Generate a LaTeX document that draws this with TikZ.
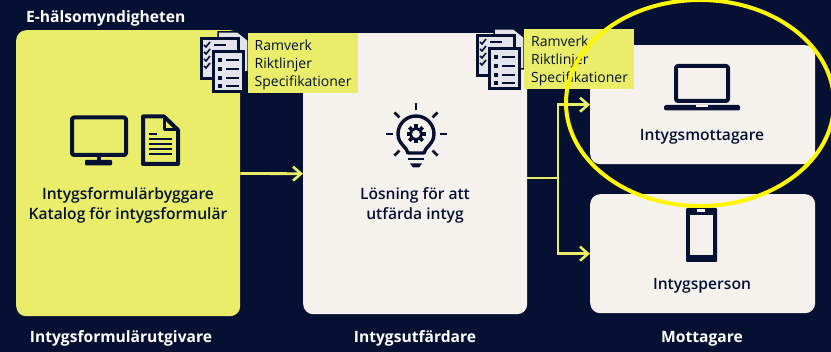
\documentclass[tikz,border=0pt]{standalone}
\usepackage{fontspec}
\setmainfont{Open Sans}
\usetikzlibrary{arrows.meta}
\definecolor{navy}{HTML}{061033}
\definecolor{lime}{HTML}{E9ED69}
\definecolor{cream}{HTML}{F5F2EE}
\definecolor{paper}{HTML}{E4E5EC}
\tikzset{
  x=1pt,y=-1pt,
  panel/.style={draw=none,rounded corners=10pt,inner sep=0pt,anchor=north west},
  tag/.style={fill=lime,inner sep=0pt,anchor=north west,minimum width=110pt,minimum height=60pt},
  tagtext/.style={anchor=north west,align=left,font=\fontsize{14}{18}\selectfont,text=navy,inner sep=0pt},
  title/.style={font=\fontsize{15.6}{18}\selectfont\bfseries,text=white,inner sep=0pt},
  boxlabel/.style={font=\fontsize{15.6}{20}\selectfont\sffamily,text=navy,inner sep=0pt,align=center},
  flow/.style={draw=lime,line width=2.8pt,-{Straight Barb[length=8pt,width=14pt,line width=2.6pt]}},
  flowline/.style={draw=lime,line width=2.8pt},
  icon/.style={draw=navy,line width=4pt,line join=round},
}
\setsansfont{Open Sans Semibold}[BoldFont=Open Sans]
\newcommand{\docstack}[2]{%
  \begin{scope}[shift={(#1,#2)}]
    \fill[paper,draw=navy,line width=1.5pt] (18,0) -- (38,0) -- (48,8) -- (48,40) -- (18,40) -- cycle;
    \fill[paper,draw=navy,line width=3pt] (1,7) rectangle (38,47);
    \foreach \yy in {13,20,27,34}{
      \draw[navy,line width=1.6pt] (4,\yy) -- (6,\yy+2) -- (10,\yy-3);
      \draw[navy,line width=1.8pt] (14,\yy) -- (26,\yy);
    }
    \fill[paper,draw=navy,line width=3pt] (13,20) rectangle (43,60);
    \foreach \yy in {28,37,46,54}{
      \fill[navy] (18,\yy-2) rectangle (22,\yy+2);
      \draw[navy,line width=1.8pt] (26,\yy) -- (39,\yy);
    }
  \end{scope}}
\begin{document}
\begin{tikzpicture}
\useasboundingbox (0,0) rectangle (831,352);
\fill[navy] (0,0) rectangle (831,352);

\node[panel,fill=lime,minimum width=224pt,minimum height=286pt] (utg) at (16,30) {};
\node[panel,fill=cream,minimum width=224pt,minimum height=281pt] (utf) at (303,33) {};
\node[panel,fill=cream,minimum width=225pt,minimum height=119pt] (mot) at (590,45) {};
\node[panel,fill=cream,minimum width=225pt,minimum height=119pt] (per) at (590,194) {};

\node[title,anchor=west] (auth) at (26,18.5) {E-hälsomyndigheten};
\node[title] (t1) at (121,338.5) {Intygsformulärutgivare};
\node[title] (t2) at (415,338.5) {Intygsutfärdare};
\node[title] (t3) at (702,338.5) {Mottagare};

\node[boxlabel] (l1) at (128,205) {Intygsformulärbyggare\\Katalog för intygsformulär};
\node[boxlabel] (l2) at (415,205) {Lösning för att\\utfärda intyg};
\node[boxlabel] (l3) at (702,137) {Intygsmottagare};
\node[boxlabel] (l4) at (702,286) {Intygsperson};

% connectors
\coordinate (j) at (558,178);
\coordinate (out) at (utf.east |- j);
\draw[flow] (utg) -- (utf.west);
\draw[flowline] (out) -- (j);
\draw[flow] (j) |- (mot.west);
\draw[flow] (j) |- (per.west);

% monitor
\draw[icon,rounded corners=2pt] (72,117.5) rectangle (126,155);
\draw[navy,line width=4pt] (98.5,155) -- (98.5,162);
\fill[navy,rounded corners=1pt] (85,160) rectangle (112,165.5);
% document
\draw[icon] (143,116.5) -- (164,116.5) -- (178,130) -- (178,164) -- (143,164) -- cycle;
\draw[navy,line width=3pt,line join=round] (164,116.5) -- (164,130) -- (178,130);
\draw[navy,line width=1.5pt] (149,134) -- (157,134);
\foreach \yy in {139,144,149,154}{\draw[navy,line width=1.6pt] (149,\yy) -- (172,\yy);}

% bulb
\begin{scope}[shift={(416,134)}]
  \draw[icon,line width=3.4pt,line cap=round] (-8,19) .. controls (-9,13) and (-18,10) .. (-18,0)
     arc[start angle=180,end angle=360,radius=18]
     .. controls (18,10) and (9,13) .. (8,19) -- cycle;
  \draw[navy,line width=2.8pt] (0,0) circle (5.6);
  \foreach \a in {0,45,...,315}{\fill[navy,rotate=\a] (-1.9,-9.5) rectangle (1.9,-6);}
  \foreach \a in {0,45,90,135,225,270,315}{\draw[navy,line width=2.8pt,rotate=\a] (0,-23.5) -- (0,-30.5);}
  \draw[navy,line width=2.8pt] (-8,25) -- (8,25);
  \fill[navy] (-6,29.5) -- (6,29.5) -- (3,33.5) -- (-3,33.5) -- cycle;
\end{scope}

% laptop
\draw[icon,rounded corners=2pt] (676,66) rectangle (728,101);
\fill[navy,rounded corners=1.5pt] (664,105) rectangle (740,110.5);
\fill[cream] (696,105) rectangle (708,107);

% phone
\fill[navy,rounded corners=1pt] (686,208) rectangle (717,262);
\fill[cream] (690,215) rectangle (713,255);
\fill[cream] (697,209) rectangle (705,212);

% doc stacks and tags
\docstack{200}{32}
\node[tag] (tag1) at (248,33) {};
\node[tagtext] (tt1) at (254.5,39.5) {Ramverk\\Riktlinjer\\Specifikationer};
\docstack{476}{29}
\node[tag] (tag2) at (524,29) {};
\node[tagtext] (tt2) at (531,36) {Ramverk\\Riktlinjer\\Specifikationer};

% highlight
\draw[draw={rgb,255:red,255;green,247;blue,0},line width=4pt] (700,103) ellipse [x radius=134,y radius=103];
\end{tikzpicture}
\end{document}
